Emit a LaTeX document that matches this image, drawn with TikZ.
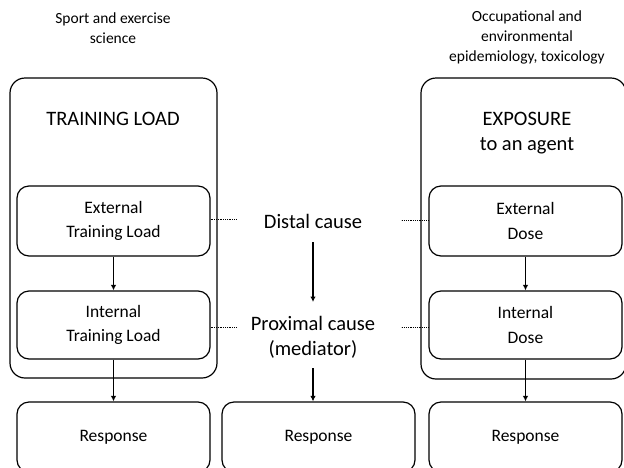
\documentclass[tikz,border=0pt]{standalone}
\usepackage{fontspec}
\setmainfont{Carlito}
\usetikzlibrary{arrows.meta}
\begin{document}
\begin{tikzpicture}[x=1pt,y=-1pt,
  bigbox/.style={draw,line width=1.2pt,rounded corners=15pt,inner sep=0pt},
  inbox/.style={draw,line width=1.2pt,rounded corners=12pt,inner sep=0pt,minimum width=193pt,align=center,font=\fontsize{17.5}{24.5}\selectfont},
  headtxt/.style={align=center,font=\fontsize{15.5}{20}\selectfont,inner sep=0pt},
  bigtxt/.style={align=center,font=\fontsize{20.5}{25}\selectfont,inner sep=0pt},
  arr/.style={line width=1.2pt,-{Latex[length=5.5pt,width=5.5pt]}},
  dotline/.style={line width=0.9pt,dash pattern=on 0.9pt off 0.9pt}]
\useasboundingbox (0,0) rectangle (624,467);
\clip (0,0) rectangle (624,467);
% headings
\node[headtxt] (hl) at (113,28) {Sport and exercise\\science};
\node[headtxt] (hr) at (527,37) {Occupational and\\environmental\\epidemiology, toxicology};
% big containers
\node[bigbox,minimum width=207pt,minimum height=300pt] (bl) at (113.5,228) {};
\node[bigbox,minimum width=205pt,minimum height=301pt] (br) at (523.5,228.5) {};
\node[bigtxt] (tl) at (113,119) {TRAINING LOAD};
\node[bigtxt] (ex) at (527,133) {EXPOSURE\\to an agent};
% inner boxes
\node[inbox,minimum height=70pt] (etl) at (113.5,221) {External\\Training Load};
\node[inbox,minimum height=68pt] (itl) at (113.5,325) {Internal\\Training Load};
\node[inbox,minimum height=70pt] (rl) at (113.5,437) {Response};
\node[inbox,minimum height=70pt] (rm) at (318.5,437) {Response};
\node[inbox,minimum height=70pt] (ed) at (525.5,221) {External\\Dose};
\node[inbox,minimum height=68pt] (id) at (525.5,325) {Internal\\Dose};
\node[inbox,minimum height=70pt] (rr) at (525.5,437) {Response};
% middle column
\node[bigtxt] (dc) at (313,221) {Distal cause};
\node[bigtxt] (pc) at (313,337.5) {Proximal cause\\(mediator)};
% arrows
\draw[arr] (etl) -- (itl);
\draw[arr] (itl) -- (rl);
\draw[arr] (ed) -- (id);
\draw[arr] (id) -- (rr);
\draw[arr] ([yshift=-21pt]dc.center) -- ([yshift=35.5pt]pc.center);
\draw[arr] ([yshift=-30.5pt]pc.center) -- (rm.north -| pc.center);
% dotted links
\draw[dotline] ([yshift=2pt]etl.east) -- ++(26,0);
\draw[dotline] ([yshift=-2pt]itl.east) -- ++(26,0);
\draw[dotline] ([yshift=1pt]ed.west) -- ++(-27,0);
\draw[dotline] ([yshift=-2pt]id.west) -- ++(-27,0);
\end{tikzpicture}
\end{document}
